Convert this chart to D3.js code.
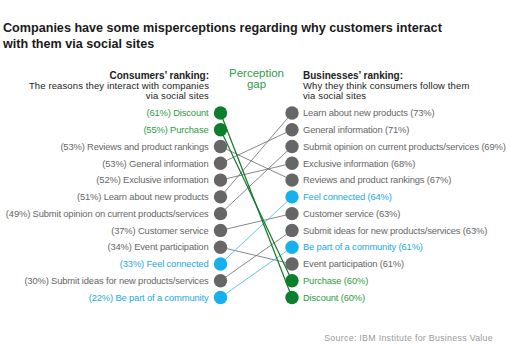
<!DOCTYPE html>
<html>
<head>
<meta charset="utf-8">
<script src="https://cdn.jsdelivr.net/npm/d3@7/dist/d3.min.js"></script>
<style>
html,body{margin:0;padding:0;background:#fff;}
svg{display:block;}
text{font-family:"Liberation Sans",Arial,sans-serif;}
</style>
</head>
<body>
<svg id="chart" width="510" height="357"></svg>
<script>
const titleLines = ["Companies have some misperceptions regarding why customers interact", "with them via social sites"];
const consumerHeader = ["Consumers\u2019 ranking:", "The reasons they interact with companies", "via social sites"];
const businessHeader = ["Businesses\u2019 ranking:", "Why they think consumers follow them", "via social sites"];
const gapLabel = ["Perception", "gap"];
const sourceText = "Source: IBM Institute for Business Value";

// Consumers' ranking (left column, top to bottom)
const consumerItems = ["Discount", "Purchase", "Reviews and product rankings", "General information", "Exclusive information", "Learn about new products", "Submit opinion on current products/services", "Customer service", "Event participation", "Feel connected", "Submit ideas for new products/services", "Be part of a community"];
const consumerValues = [61, 55, 53, 53, 52, 51, 49, 37, 34, 33, 30, 22];

// Businesses' ranking (right column, top to bottom)
const businessItems = ["Learn about new products", "General information", "Submit opinion on current products/services", "Exclusive information", "Reviews and product rankings", "Feel connected", "Customer service", "Submit ideas for new products/services", "Be part of a community", "Event participation", "Purchase", "Discount"];
const businessValues = [73, 71, 69, 68, 67, 64, 63, 63, 61, 61, 60, 60];

const greenItems = ["Discount", "Purchase"];
const blueItems = ["Feel connected", "Be part of a community"];

const svg = d3.select("#chart");

const col = d3.scalePoint().domain(["consumers", "businesses"]).range([220.5, 292]);
const rank = d3.scalePoint().domain(d3.range(consumerItems.length)).range([113, 297.5]);

function group(item) {
  return greenItems.includes(item) ? "green" : blueItems.includes(item) ? "blue" : "gray";
}
const dotColor = {gray: "#666666", green: "#0b7f2b", blue: "#16b1ec"};
const lineColor = {gray: "#6a6a6a", green: "#14782b", blue: "#3cb8e6"};
const labelColor = {gray: "#666666", green: "#2f9a45", blue: "#1aa9e4"};
const lineWidth = {gray: 0.8, green: 1.2, blue: 0.8};

// Title
svg.append("g").selectAll("text").data(titleLines).join("text")
  .attr("x", 3).attr("y", (d, i) => 32 + i * 16)
  .attr("font-size", 12.6).attr("font-weight", "bold").attr("fill", "#1a1a1a")
  .text(d => d);

// Headers
svg.append("g").selectAll("text").data(consumerHeader).join("text")
  .attr("x", 209).attr("y", (d, i) => 79 + i * 10)
  .attr("text-anchor", "end")
  .attr("font-size", (d, i) => i === 0 ? 10 : 9.5)
  .attr("letter-spacing", (d, i) => i === 0 ? 0 : 0.12)
  .attr("font-weight", (d, i) => i === 0 ? "bold" : "normal")
  .attr("fill", "#222").text(d => d);

svg.append("g").selectAll("text").data(businessHeader).join("text")
  .attr("x", 303).attr("y", (d, i) => 79 + i * 10)
  .attr("font-size", (d, i) => i === 0 ? 10 : 9.5)
  .attr("letter-spacing", (d, i) => i === 0 ? 0 : 0.12)
  .attr("font-weight", (d, i) => i === 0 ? "bold" : "normal")
  .attr("fill", "#222").text(d => d);

svg.append("g").selectAll("text").data(gapLabel).join("text")
  .attr("x", 256.5).attr("y", (d, i) => 77 + i * 11)
  .attr("text-anchor", "middle")
  .attr("font-family", "'DejaVu Serif',serif")
  .attr("font-size", 11.5).attr("fill", "#2e9c48")
  .text(d => d);

// Lines
const links = consumerItems.map((item, i) => ({item, i, j: businessItems.indexOf(item), g: group(item)}));
const order = {gray: 0, blue: 1, green: 2};
links.sort((a, b) => order[a.g] - order[b.g]);
svg.append("g").selectAll("line").data(links).join("line")
  .attr("x1", col("consumers")).attr("y1", d => rank(d.i))
  .attr("x2", col("businesses")).attr("y2", d => rank(d.j))
  .attr("stroke", d => lineColor[d.g]).attr("stroke-width", d => lineWidth[d.g]);

// Dots
svg.append("g").selectAll("circle").data(consumerItems).join("circle")
  .attr("cx", col("consumers")).attr("cy", (d, i) => rank(i)).attr("r", 6.7)
  .attr("fill", d => dotColor[group(d)]);
svg.append("g").selectAll("circle").data(businessItems).join("circle")
  .attr("cx", col("businesses")).attr("cy", (d, i) => rank(i)).attr("r", 6.7)
  .attr("fill", d => dotColor[group(d)]);

// Labels
svg.append("g").selectAll("text").data(consumerItems).join("text")
  .attr("x", 208.5).attr("y", (d, i) => rank(i)).attr("dy", "0.35em")
  .attr("text-anchor", "end").attr("font-size", 9.4).attr("letter-spacing", -0.15)
  .attr("fill", d => labelColor[group(d)])
  .text((d, i) => `(${consumerValues[i]}%) ${d}`);
svg.append("g").selectAll("text").data(businessItems).join("text")
  .attr("x", 303).attr("y", (d, i) => rank(i)).attr("dy", "0.35em")
  .attr("font-size", 9.4).attr("letter-spacing", -0.15)
  .attr("fill", d => labelColor[group(d)])
  .text((d, i) => `${d} (${businessValues[i]}%)`);

// Source
svg.append("text").attr("x", 493).attr("y", 341).attr("text-anchor", "end")
  .attr("font-size", 8.8).attr("letter-spacing", 0.3).attr("fill", "#999")
  .text(sourceText);
</script>
</body>
</html>
